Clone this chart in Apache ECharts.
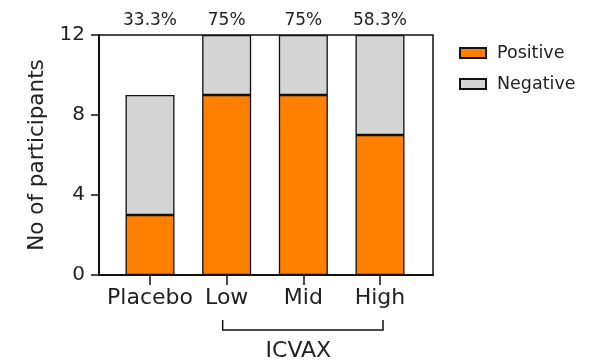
<!DOCTYPE html>
<html>
<head>
<meta charset="utf-8">
<script src="https://cdn.jsdelivr.net/npm/echarts@6/dist/echarts.min.js"></script>
<style>html,body{margin:0;padding:0;background:#fff}#c{width:592px;height:364px}</style>
</head>
<body>
<div id="c"></div>
<script>
const categories = ['Placebo', 'Low', 'Mid', 'High'];
const positive = [3, 9, 9, 7];
const negative = [6, 3, 3, 5];
const percentLabels = ['33.3%', '75%', '75%', '58.3%'];
const groupLabel = 'ICVAX';
const yName = 'No of participants';

const FONT = 'DejaVu Sans';
const TXT = '#222';
const chart = echarts.init(document.getElementById('c'), null, {renderer: 'canvas'});
const option = {
  animation: false,
  textStyle: {fontFamily: FONT},
  grid: [
    {left: 99, right: 159, top: 35, bottom: 89, show: true, borderColor: '#111', borderWidth: 1.5, backgroundColor: 'transparent'},
    {left: 111.67, right: 173.67, top: 35, bottom: 89}
  ],
  legend: {
    data: ['Positive', 'Negative'],
    orient: 'vertical', left: 454, top: 39,
    icon: 'rect', itemWidth: 26, itemHeight: 10, itemGap: 13,
    textStyle: {fontFamily: FONT, fontSize: 17.5, color: TXT, padding: [0, 0, 0, 6]}
  },
  xAxis: [
    {type: 'value', gridIndex: 0, min: 0, max: 1, show: true,
     axisLine: {show: true, lineStyle: {color: '#111', width: 2}},
     axisTick: {show: false}, axisLabel: {show: false}, splitLine: {show: false}},
    {type: 'category', gridIndex: 1, data: categories, position: 'bottom',
     axisLine: {show: false},
     axisTick: {show: true, alignWithLabel: true, length: 10, lineStyle: {color: '#111', width: 1.5}},
     axisLabel: {interval: 0, fontFamily: FONT, fontSize: 22, color: TXT, margin: 12}},
    {type: 'category', gridIndex: 1, data: percentLabels, position: 'top',
     axisLine: {show: false}, axisTick: {show: false},
     axisLabel: {interval: 0, fontFamily: FONT, fontSize: 17, color: TXT, margin: 6}}
  ],
  yAxis: [
    {type: 'value', gridIndex: 0, min: 0, max: 12, interval: 4,
     name: yName, nameLocation: 'middle', nameGap: 51,
     nameTextStyle: {fontFamily: FONT, fontSize: 21.5, color: TXT},
     axisLine: {show: true, lineStyle: {color: '#111', width: 2}},
     axisTick: {show: true, length: 8, lineStyle: {color: '#111', width: 1.5}},
     axisLabel: {fontFamily: FONT, fontSize: 20, color: TXT, margin: 14},
     splitLine: {show: false}},
    {type: 'value', gridIndex: 1, min: 0, max: 12, interval: 4, show: false}
  ],
  series: [
    {name: 'Positive', type: 'bar', stack: 'total', xAxisIndex: 1, yAxisIndex: 1,
     data: positive, barWidth: 49,
     itemStyle: {color: '#FF8000', borderColor: '#111', borderWidth: 1.3}},
    {name: 'Negative', type: 'bar', stack: 'total', xAxisIndex: 1, yAxisIndex: 1,
     data: negative, barWidth: 49,
     itemStyle: {color: '#D4D4D4', borderColor: '#111', borderWidth: 1.3}}
  ]
};
chart.setOption(option);

const xLow = chart.convertToPixel({xAxisIndex: 1}, 'Low');
const xHigh = chart.convertToPixel({xAxisIndex: 1}, 'High');
const xMid = chart.convertToPixel({xAxisIndex: 1}, 'Mid');
const yBase = chart.convertToPixel({yAxisIndex: 0}, 0);
const yBr = yBase + 55;
chart.setOption({
  graphic: [
    {type: 'polyline', silent: true,
     shape: {points: [[xLow - 4, yBr - 10], [xLow - 4, yBr], [xHigh + 3, yBr], [xHigh + 3, yBr - 10]]},
     style: {stroke: '#111', lineWidth: 1.5, fill: null}},
    {type: 'text', silent: true, x: xMid - 5, y: yBr + 21,
     style: {text: groupLabel, fontFamily: FONT, fontSize: 22, fill: TXT, align: 'center', verticalAlign: 'middle'}}
  ]
});
</script>
</body>
</html>
